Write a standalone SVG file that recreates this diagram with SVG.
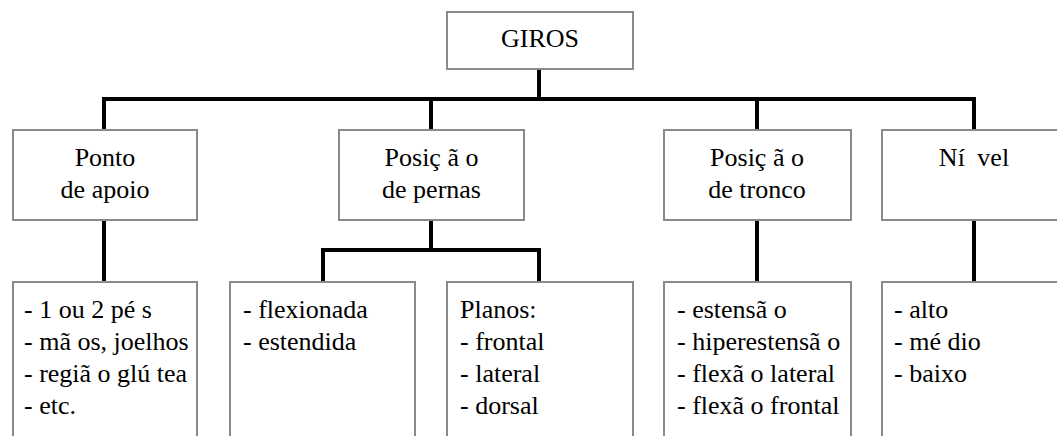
<svg xmlns="http://www.w3.org/2000/svg" width="1057" height="436" viewBox="0 0 1057 436">
<style>
.box{fill:#fff;stroke:#8a8a8a;stroke-width:2}
.lbl{font-size:26px;fill:#000}
.c{text-anchor:middle}
.con{fill:none;stroke:#000;stroke-width:4;stroke-linejoin:miter;stroke-linecap:butt}
</style>
<rect width="1057" height="436" fill="#fff"/>
<g id="connectors">
<path class="con" d="M539,69 V99"/>
<path class="con" d="M104,130 V99 H974 V130"/>
<path class="con" d="M431,99 V130"/>
<path class="con" d="M757,99 V130"/>
<path class="con" d="M104,220 V282"/>
<path class="con" d="M431,220 V250"/>
<path class="con" d="M323,282 V250 H539 V282"/>
<path class="con" d="M757,220 V282"/>
<path class="con" d="M974,220 V282"/>
</g>
<g id="giros" font-family="Liberation Serif, Tinos, Times New Roman, serif">
<rect class="box" x="447" y="12" width="186" height="57"/>
<text class="lbl c" x="540" y="47">GIROS</text>
</g>
<g id="ponto" font-family="Liberation Serif, Tinos, Times New Roman, serif">
<rect class="box" x="13" y="130" width="184" height="90"/>
<text class="lbl c" x="105" y="166">Ponto</text>
<text class="lbl c" x="105" y="198">de apoio</text>
</g>
<g id="pernas" font-family="Liberation Serif, Tinos, Times New Roman, serif">
<rect class="box" x="339" y="130" width="185" height="90"/>
<text class="lbl c" x="431.5" y="166">Posiç ã o</text>
<text class="lbl c" x="431.5" y="198">de pernas</text>
</g>
<g id="tronco" font-family="Liberation Serif, Tinos, Times New Roman, serif">
<rect class="box" x="664" y="130" width="187" height="90"/>
<text class="lbl c" x="757" y="166">Posiç ã o</text>
<text class="lbl c" x="757" y="198">de tronco</text>
</g>
<g id="nivel" font-family="Liberation Serif, Tinos, Times New Roman, serif">
<rect class="box" x="882" y="130" width="184" height="90"/>
<text class="lbl c" x="974" y="166">Ní<tspan dx="6"> vel</tspan></text>
</g>
<g id="apoio-list" font-family="Liberation Serif, Tinos, Times New Roman, serif">
<rect class="box" x="13" y="282" width="184" height="170"/>
<text class="lbl" x="24" y="318">- 1 ou 2 pé s</text>
<text class="lbl" x="24" y="350">- mã os, joelhos</text>
<text class="lbl" x="24" y="382">- regiã o glú tea</text>
<text class="lbl" x="24" y="414">- etc.</text>
</g>
<g id="pernas-list" font-family="Liberation Serif, Tinos, Times New Roman, serif">
<rect class="box" x="230" y="282" width="185" height="170"/>
<text class="lbl" x="243" y="318">- flexionada</text>
<text class="lbl" x="243" y="350">- estendida</text>
</g>
<g id="planos-list" font-family="Liberation Serif, Tinos, Times New Roman, serif">
<rect class="box" x="447" y="282" width="186" height="170"/>
<text class="lbl" x="460" y="318">Planos:</text>
<text class="lbl" x="460" y="350">- frontal</text>
<text class="lbl" x="460" y="382">- lateral</text>
<text class="lbl" x="460" y="414">- dorsal</text>
</g>
<g id="tronco-list" font-family="Liberation Serif, Tinos, Times New Roman, serif">
<rect class="box" x="664" y="282" width="187" height="170"/>
<text class="lbl" x="677" y="318">- estensã o</text>
<text class="lbl" x="677" y="350">- hiperestensã o</text>
<text class="lbl" x="677" y="382">- flexã o lateral</text>
<text class="lbl" x="677" y="414">- flexã o frontal</text>
</g>
<g id="nivel-list" font-family="Liberation Serif, Tinos, Times New Roman, serif">
<rect class="box" x="882" y="282" width="184" height="170"/>
<text class="lbl" x="894" y="318">- alto</text>
<text class="lbl" x="894" y="350">- mé dio</text>
<text class="lbl" x="894" y="382">- baixo</text>
</g>
</svg>
